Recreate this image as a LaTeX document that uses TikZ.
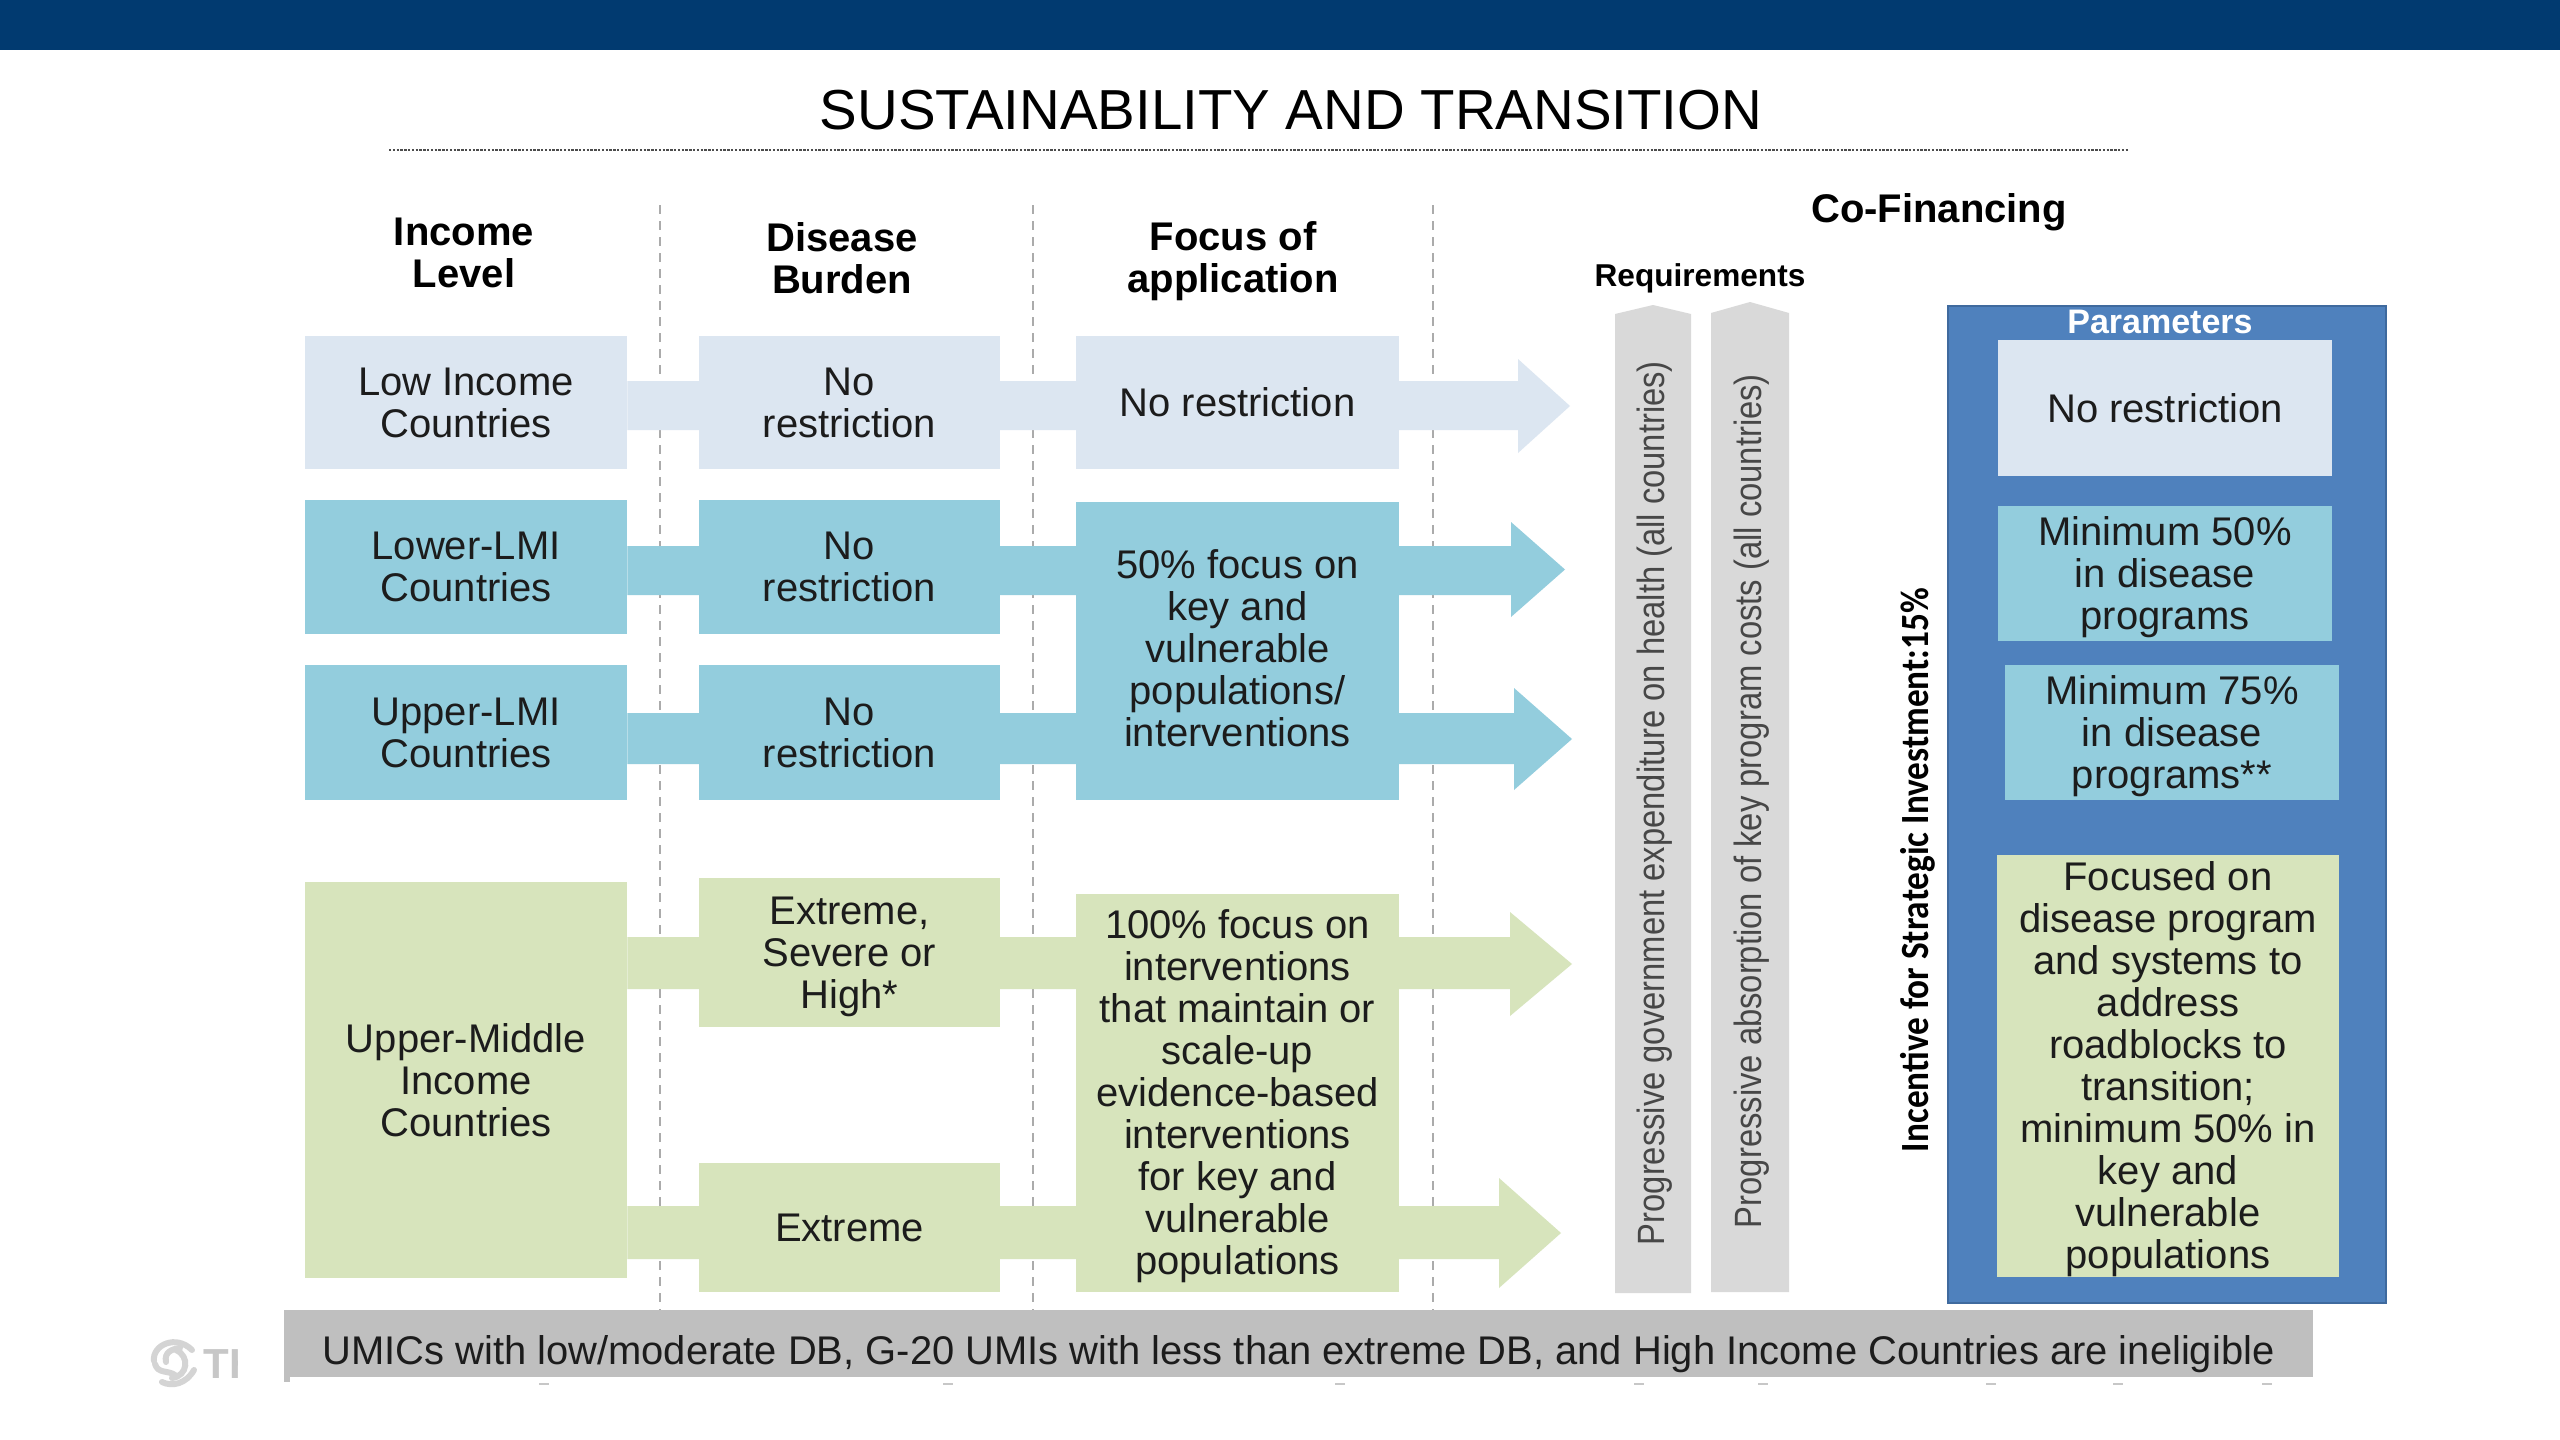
\documentclass[tikz,border=0pt]{standalone}
\usepackage{fontspec}
\usepackage{graphicx}
\setmainfont{Liberation Sans}
\newfontfamily\incfont{Carlito}
\usetikzlibrary{backgrounds}
\definecolor{navy}{HTML}{013A70}
\definecolor{paleblue}{HTML}{DCE6F1}
\definecolor{teal}{HTML}{93CDDD}
\definecolor{pale}{HTML}{D7E4BC}
\definecolor{barG}{HTML}{D9D9D9}
\definecolor{noteG}{HTML}{BFBFBF}
\definecolor{blueP}{HTML}{4F81BD}
\definecolor{blueE}{HTML}{3F6A9E}
\definecolor{ink}{HTML}{1C1C1C}
\tikzset{
  boxnode/.style={inner sep=0pt,align=center,text=ink,font=\fontsize{20}{21}\selectfont},
  headtxt/.style={inner sep=0pt,align=center,text=black,font=\fontsize{20}{21}\selectfont\bfseries},
  sep line/.style={draw=black!33,line width=1.3pt,dash pattern=on 4.5pt off 3.5pt},
  barlabel/.style={inner sep=0pt,rotate=90,text=black!72,font=\fontsize{19}{19}\selectfont},
  faint/.style={draw=black!22,line width=1pt},
  logo arc/.style={draw=black!17,line width=3pt,line cap=round}
}
\newcommand{\dnline}{\rule{0pt}{18pt}}
\newcommand{\upline}{\rule[-3.2pt]{0pt}{3.2pt}}
% name, x1, y1, x2, y2, colour, text
\newcommand{\bx}[7]{%
  \pgfmathsetmacro\bw{(#4-#2)*0.5}\pgfmathsetmacro\bh{(#5-#3)*0.5}%
  \pgfmathsetmacro\bcx{(#2+#4)/2}\pgfmathsetmacro\bcy{(#3+#5)/2}%
  \node[boxnode,fill=#6,minimum width=\bw pt,minimum height=\bh pt] (#1) at (\bcx,\bcy) {#7};}
% colour, start node, band y1, band y2, head x, head y1, head y2, tip x
\newcommand{\bandarrow}[8]{%
  \pgfmathsetmacro\hc{(#6+#7)/2}%
  \fill[#1] (#2.east |- 0,#3) -- (#5,#3) -- (#5,#6) -- (#8,\hc) -- (#5,#7) -- (#5,#4) -- (#2.east |- 0,#4) -- cycle;}
\begin{document}
\begin{tikzpicture}[x=0.5pt,y=-0.5pt]
\useasboundingbox (0,0) rectangle (2560,1440);
% top band and title
\fill[navy] (0,0) rectangle (2560,50);
\node[inner sep=0pt,text=black,font=\fontsize{28.2}{30}\selectfont] (title) at (1291,110) {SUSTAINABILITY AND TRANSITION};
\coordinate (ruleL) at (389,150);
\coordinate (ruleR) at (2129,150);
\draw[black!70,line width=0.6pt,dash pattern=on 1.2pt off 0.7pt] (ruleL) -- (ruleR);
% headers
\node[headtxt] (hIncome) at (464,253) {Income\\Level};
\node[headtxt] (hDisease) at (842,258) {Disease\\Burden};
\node[headtxt] (hFocus) at (1233,261) {Focus of\\application};
\node[headtxt] (hCo) at (1939,212) {Co-Financing};
\node[inner sep=0pt,text=black,font=\fontsize{15.8}{16}\selectfont\bfseries] (hReq) at (1700,278) {Requirements};
% separators (free ends)
\coordinate (s1t) at (660,205);\coordinate (s1b) at (660,1310);
\coordinate (s2t) at (1033,205);\coordinate (s2b) at (1033,1310);
\coordinate (s3t) at (1433,205);\coordinate (s3b) at (1433,1310);
% row boxes
\bx{lowA}{305}{336}{627}{469}{paleblue}{Low Income\\Countries}
\bx{lowB}{699}{336}{1000}{469}{paleblue}{No\\restriction}
\bx{lowC}{1076}{336}{1399}{469}{paleblue}{No restriction}
\bx{llmA}{305}{500}{627}{634}{teal}{Lower-LMI\\Countries}
\bx{llmB}{699}{500}{1000}{634}{teal}{No\\restriction}
\bx{ulmA}{305}{665}{627}{800}{teal}{Upper-LMI\\Countries}
\bx{ulmB}{699}{665}{1000}{800}{teal}{No\\restriction}
\bx{lmC}{1076}{502}{1399}{800}{teal}{50\% focus on\\key and\\vulnerable\\populations/\\interventions\upline}
\bx{umA}{305}{882}{627}{1278}{pale}{Upper-Middle\\Income\\Countries}
\bx{umB}{699}{878}{1000}{1027}{pale}{\dnline Extreme,\\Severe or\\High*}
\bx{umD}{699}{1163}{1000}{1292}{pale}{Extreme}
\bx{umC}{1076}{894}{1399}{1292}{pale}{\dnline 100\% focus on\\interventions\\that maintain or\\scale-up\\evidence-based\\interventions\\for key and\\vulnerable\\populations}
% requirement bars
\fill[barG] (1615,314) -- (1653,305) -- (1691,314) -- (1691,1293) -- (1615,1293) -- cycle;
\fill[barG] (1711,313) -- (1750,302) -- (1789,313) -- (1789,1292) -- (1711,1292) -- cycle;
\node[barlabel] (barOne) at (1655,803) {\resizebox{442pt}{\height}{Progressive government expenditure on health (all countries)}};
\node[barlabel] (barTwo) at (1752,801) {\resizebox{427pt}{\height}{Progressive absorption of key program costs (all countries)}};
% incentive
\node[inner sep=0pt,rotate=90,text=black] (incent) at (1918,870) {\resizebox{282pt}{\height}{\fontsize{20}{20}\incfont\bfseries Incentive for Strategic Investment:15\%}};
% parameters panel
\draw[blueE,fill=blueP,line width=1.2pt] (1948,306) rectangle (2386,1303);
\node[inner sep=0pt,text=white,font=\fontsize{17}{17}\selectfont\bfseries] (hPar) at (2160,322) {Parameters};
\bx{pNo}{1998}{340}{2332}{476}{paleblue}{No restriction}
\bx{pFifty}{1998}{506}{2332}{641}{teal}{\dnline Minimum 50\%\\in disease\\programs}
\bx{pSeventy}{2005}{665}{2339}{800}{teal}{\dnline Minimum 75\%\\in disease\\programs**}
\bx{pFocus}{1997}{855}{2339}{1277}{pale}{\dnline Focused on\\disease program\\and systems to\\address\\roadblocks to\\transition;\\minimum 50\% in\\key and\\vulnerable\\populations}
% bottom note
\fill[noteG] (284,1376) rectangle (290,1382);
\bx{note}{284}{1310}{2313}{1377}{noteG}{\rule{0pt}{25pt}\resizebox{976pt}{\height}{UMICs with low/moderate DB, G-20 UMIs with less than extreme DB, and High Income Countries are ineligible}}
% logo fragment (shapes drawn directly)
\draw[logo arc] (154,1361) .. controls (152,1345) and (176,1334) .. (192,1350);
\draw[logo arc] (155,1364) .. controls (158,1374) and (168,1370) .. (175,1375);
\draw[logo arc] (176,1350) .. controls (190,1356) and (188,1376) .. (172,1378);
\draw[logo arc] (162,1382) .. controls (172,1387) and (186,1384) .. (194,1370);
\draw[logo arc] (166,1362) .. controls (164,1352) and (172,1349) .. (180,1348);
\begin{scope}
\clip (195,1330) rectangle (237,1395);
\node[inner sep=0pt,anchor=west,text=black!22,font=\fontsize{21}{21}\selectfont\bfseries] (logoT) at (203,1364) {TH};
\end{scope}
% faint remnants under the note band
\foreach \mx in {544,948,1340,1639,1763,1991,2118,2267}{\draw[faint] (\mx-5,1384) -- (\mx+5,1384);}
% background layer: page, separators, arrows
\begin{scope}[on background layer]
\fill[white] (0,0) rectangle (2560,1440);
\draw[sep line] (s1t) -- (s1b);
\draw[sep line] (s2t) -- (s2b);
\draw[sep line] (s3t) -- (s3b);
\bandarrow{paleblue}{lowA}{381}{430}{1518}{359}{453}{1570}
\bandarrow{teal}{llmA}{546}{595}{1511}{522}{617}{1565}
\bandarrow{teal}{ulmA}{713}{764}{1514}{688}{790}{1572}
\bandarrow{pale}{umA}{937}{989}{1510}{912}{1016}{1572}
\bandarrow{pale}{umA}{1206}{1259}{1499}{1178}{1288}{1561}
\end{scope}
\end{tikzpicture}
\end{document}
